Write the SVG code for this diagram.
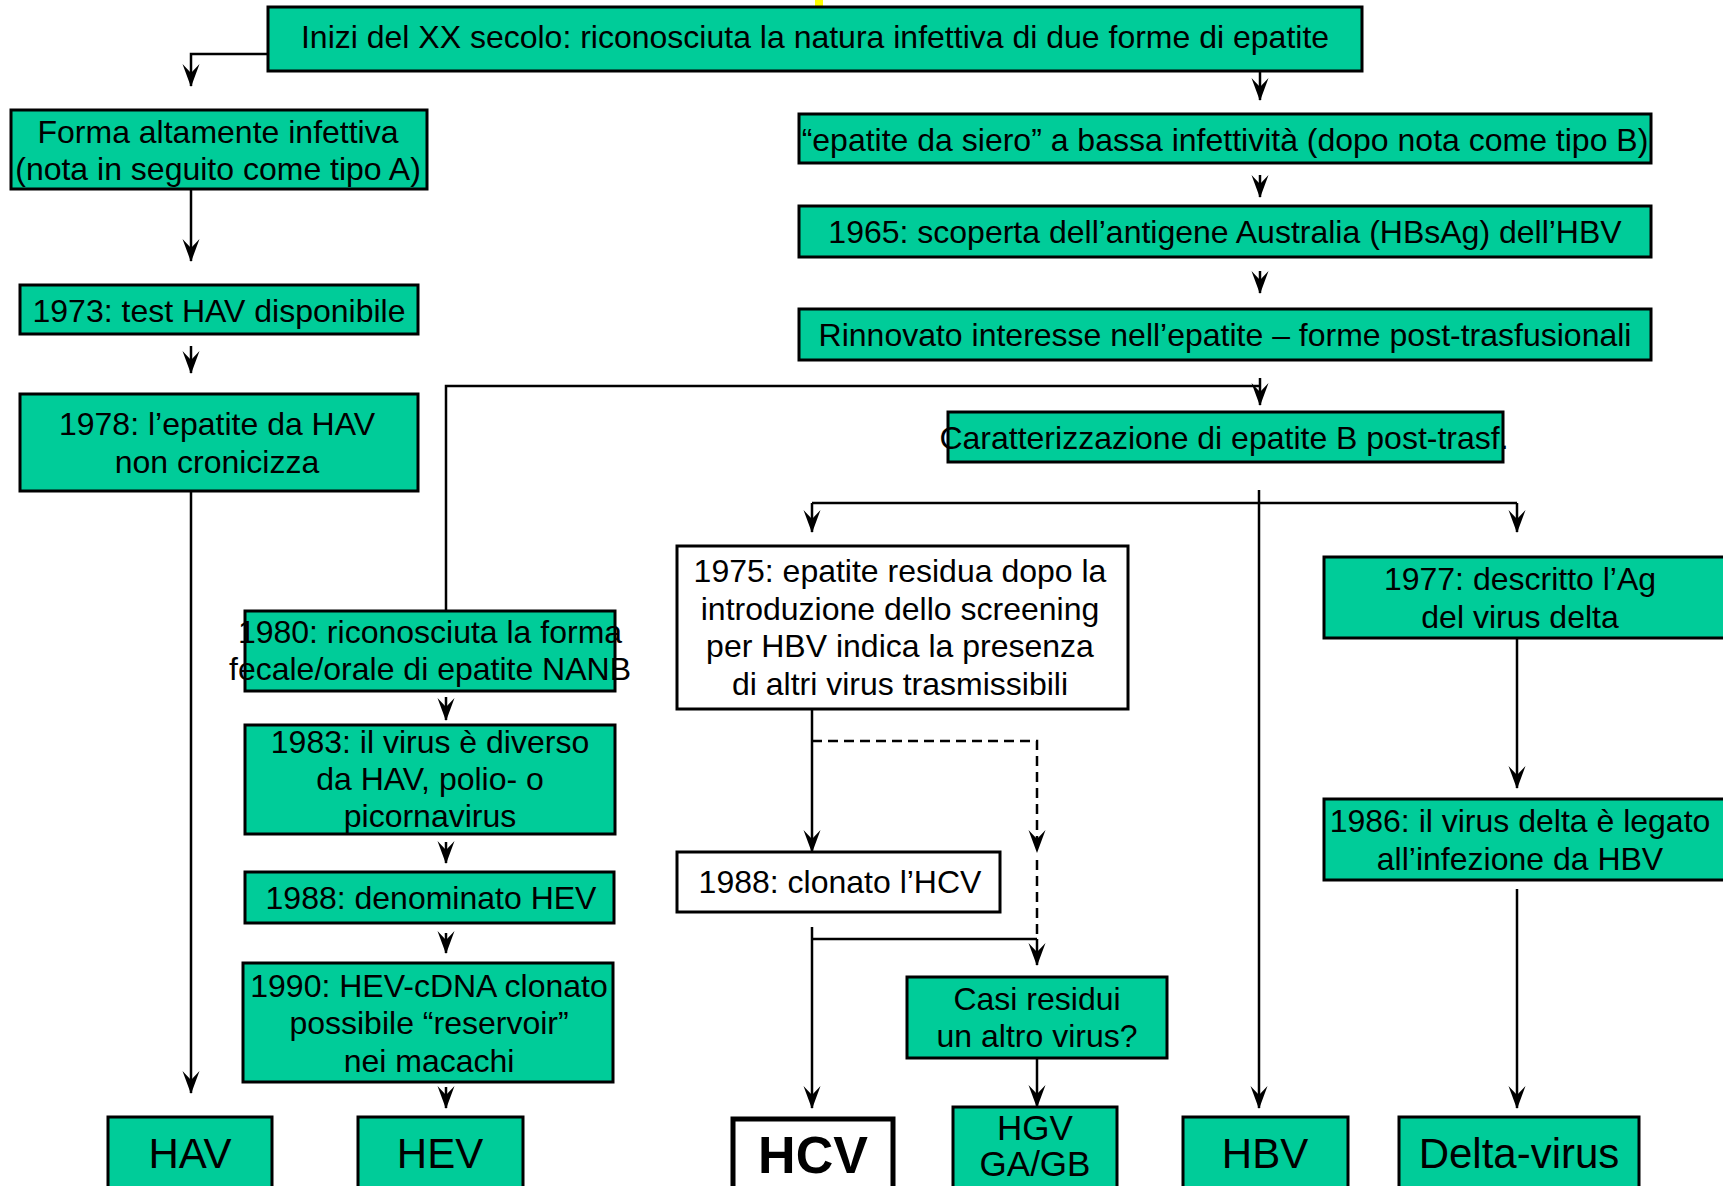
<svg xmlns="http://www.w3.org/2000/svg" width="1723" height="1186" viewBox="0 0 1723 1186">
<style>
.g{fill:#00CC99;stroke:#000;stroke-width:3}
.w{fill:#fff;stroke:#000;stroke-width:3}
.t{font-family:"Liberation Sans",Arial,sans-serif;font-size:32px;text-anchor:middle;fill:#000}
.big{font-family:"Liberation Sans",Arial,sans-serif;font-size:42px;text-anchor:middle;fill:#000}
.c{fill:none;stroke:#000;stroke-width:2.5}
.a{marker-end:url(#ah)}
.d{stroke-dasharray:10 6}
</style>
<defs>
<marker id="ah" markerUnits="userSpaceOnUse" markerWidth="30" markerHeight="24" viewBox="-25 -12 29 24" refX="0" refY="0" orient="auto">
<path d="M1,0 L-22,-8.5 L-13,0 L-22,8.5 Z" fill="#000"/>
</marker>
</defs>
<rect x="815" y="0" width="8" height="6" fill="#FFFF00"/>
<g id="connectors">
<path class="c a" d="M268,54 H191 V86"/>
<path class="c a" d="M1260,71 V100"/>
<path class="c a" d="M1260,175 V197"/>
<path class="c a" d="M1260,271 V293"/>
<path class="c a" d="M1260,378 V405"/>
<path class="c" d="M446,611 V386 H1260"/>
<path class="c a" d="M191,189 V261"/>
<path class="c a" d="M191,346 V373"/>
<path class="c a" d="M191,491 V1093"/>
<path class="c a" d="M446,697 V720"/>
<path class="c a" d="M446,842 V863"/>
<path class="c a" d="M446,933 V953"/>
<path class="c a" d="M446,1087 V1108"/>
<path class="c a" d="M1259,490 V1108"/>
<path class="c" d="M812,503 H1517"/>
<path class="c a" d="M812,503 V532"/>
<path class="c a" d="M1517,503 V532"/>
<path class="c a" d="M812,709 V852"/>
<path class="c d a" d="M812,741 H1037 V852"/>
<path class="c d" d="M1037,860 V939"/>
<path class="c a" d="M812,927 V1108"/>
<path class="c" d="M812,939 H1037"/>
<path class="c a" d="M1037,939 V965"/>
<path class="c a" d="M1037,1058 V1107"/>
<path class="c a" d="M1517,638 V788"/>
<path class="c a" d="M1517,889 V1108"/>
</g>
<g id="n-top"><rect class="g" x="268" y="7" width="1094" height="64"/><text class="t" x="815" y="48">Inizi del XX secolo: riconosciuta la natura infettiva di due forme di epatite</text></g>
<g id="n-formaA"><rect class="g" x="11" y="110" width="416" height="79"/><text class="t" x="218" y="143">Forma altamente infettiva</text><text class="t" x="218" y="180">(nota in seguito come tipo A)</text></g>
<g id="n-1973"><rect class="g" x="20" y="285" width="398" height="49"/><text class="t" x="219" y="322">1973: test HAV disponibile</text></g>
<g id="n-1978"><rect class="g" x="20" y="394" width="398" height="97"/><text class="t" x="217" y="435">1978: l’epatite da HAV</text><text class="t" x="217" y="473">non cronicizza</text></g>
<g id="n-siero"><rect class="g" x="799" y="114" width="852" height="49"/><text class="t" x="1225" y="151">“epatite da siero” a bassa infettività (dopo nota come tipo B)</text></g>
<g id="n-1965"><rect class="g" x="799" y="206" width="852" height="51"/><text class="t" x="1225" y="243">1965: scoperta dell’antigene Australia (HBsAg) dell’HBV</text></g>
<g id="n-rinnovato"><rect class="g" x="799" y="309" width="852" height="51"/><text class="t" x="1225" y="346">Rinnovato interesse nell’epatite – forme post-trasfusionali</text></g>
<g id="n-caratt"><rect class="g" x="948" y="412" width="555" height="50"/><text class="t" x="1224" y="449">Caratterizzazione di epatite B post-trasf.</text></g>
<g id="n-1980"><rect class="g" x="245" y="611" width="370" height="80"/><text class="t" x="430" y="643">1980: riconosciuta la forma</text><text class="t" x="430" y="680">fecale/orale di epatite NANB</text></g>
<g id="n-1983"><rect class="g" x="245" y="725" width="370" height="109"/><text class="t" x="430" y="753">1983: il virus è diverso</text><text class="t" x="430" y="790">da HAV, polio- o</text><text class="t" x="430" y="827">picornavirus</text></g>
<g id="n-1988hev"><rect class="g" x="245" y="872" width="369" height="51"/><text class="t" x="431" y="909">1988: denominato HEV</text></g>
<g id="n-1990"><rect class="g" x="243" y="963" width="370" height="119"/><text class="t" x="429" y="997">1990: HEV-cDNA clonato</text><text class="t" x="429" y="1034">possibile “reservoir”</text><text class="t" x="429" y="1072">nei macachi</text></g>
<g id="n-1975"><rect class="w" x="677" y="546" width="451" height="163"/><text class="t" x="900" y="582">1975: epatite residua dopo la</text><text class="t" x="900" y="620">introduzione dello screening</text><text class="t" x="900" y="657">per HBV indica la presenza</text><text class="t" x="900" y="695">di altri virus trasmissibili</text></g>
<g id="n-1977"><rect class="g" x="1324" y="557" width="402" height="81"/><text class="t" x="1520" y="590">1977: descritto l’Ag</text><text class="t" x="1520" y="628">del virus delta</text></g>
<g id="n-1986"><rect class="g" x="1324" y="799" width="402" height="81"/><text class="t" x="1520" y="832">1986: il virus delta è legato</text><text class="t" x="1520" y="870">all’infezione da HBV</text></g>
<g id="n-1988hcv"><rect class="w" x="677" y="852" width="323" height="60"/><text class="t" x="840" y="893">1988: clonato l’HCV</text></g>
<g id="n-casi"><rect class="g" x="907" y="977" width="260" height="81"/><text class="t" x="1037" y="1010">Casi residui</text><text class="t" x="1037" y="1047">un altro virus?</text></g>
<g id="n-hav"><rect class="g" x="108" y="1117" width="164" height="90"/><text class="big" x="190" y="1168">HAV</text></g>
<g id="n-hev"><rect class="g" x="358" y="1117" width="165" height="90"/><text class="big" x="440" y="1168">HEV</text></g>
<g id="n-hcv"><rect x="733" y="1119" width="160" height="90" fill="#fff" stroke="#000" stroke-width="5"/><text class="big" x="813" y="1173" style="font-weight:bold;font-size:52px">HCV</text></g>
<g id="n-hgv"><rect class="g" x="953" y="1107" width="164" height="100"/><text class="big" x="1035" y="1140" style="font-size:35px">HGV</text><text class="big" x="1035" y="1176" style="font-size:35px">GA/GB</text></g>
<g id="n-hbv"><rect class="g" x="1183" y="1117" width="165" height="90"/><text class="big" x="1265" y="1168">HBV</text></g>
<g id="n-delta"><rect class="g" x="1399" y="1117" width="240" height="90"/><text class="big" x="1519" y="1168">Delta-virus</text></g>
</svg>
